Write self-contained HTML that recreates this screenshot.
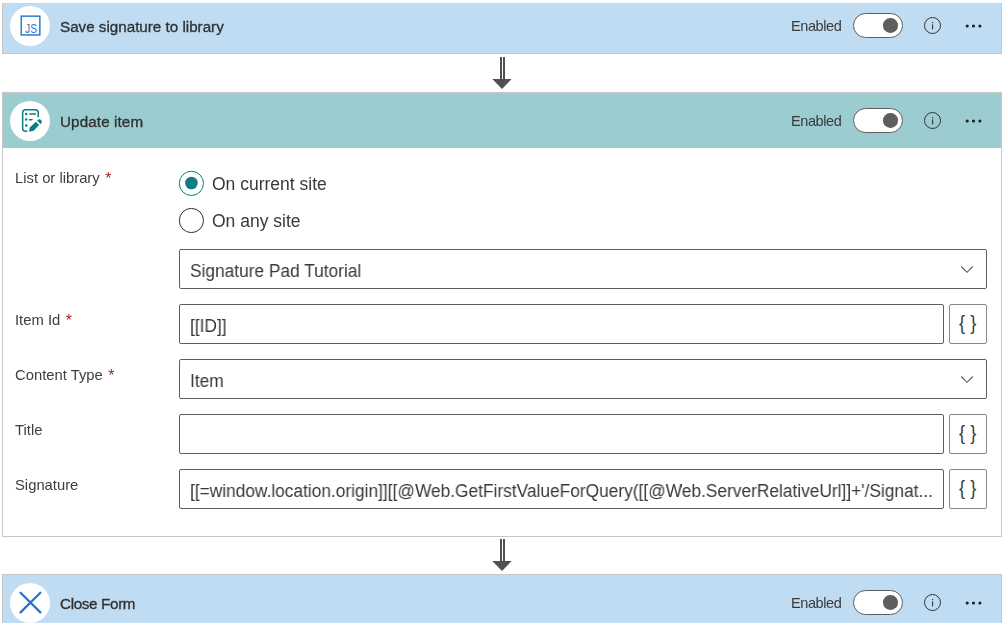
<!DOCTYPE html>
<html><head><meta charset="utf-8">
<style>
*{box-sizing:border-box;margin:0;padding:0}
html,body{width:1004px;height:625px;overflow:hidden;background:#fff;font-family:"Liberation Sans",sans-serif;color:#323130}
.abs{position:absolute}
.hdr{position:absolute;left:2px;width:1000px;height:57px;border:1px solid #c6c6c6}
.circ{position:absolute;left:7px;top:8px;width:40px;height:40px;border-radius:50%;background:#fff}
.ttl{position:absolute;left:57px;top:20.2px;line-height:normal;font-size:15.2px;-webkit-text-stroke:0.32px #323130;will-change:transform;white-space:nowrap;color:#323130}
.en{position:absolute;will-change:transform;left:787.9px;top:19.9px;font-size:14.5px;letter-spacing:-0.4px;white-space:nowrap;color:#3b3a39}
.tog{position:absolute;left:850px;top:15px;width:50px;height:25px;border:1px solid #605e5c;border-radius:13px;background:#fff}
.knob{position:absolute;left:29.3px;top:4.2px;width:14.6px;height:14.6px;border-radius:50%;background:#5f5e5d}
.info{position:absolute;left:920px;top:18px}
.dots{position:absolute;left:960.7px;top:24px}
.lbl{position:absolute;left:15px;will-change:transform;font-size:14.8px;white-space:nowrap;color:#3f3e3d}
.req{color:#a4262c;margin-left:1.4px;font-size:15.8px;line-height:1px;position:relative;top:1px}
.inp{position:absolute;left:179px;height:40px;border:1px solid #605e5c;border-radius:2px;background:#fff;font-size:18px;color:#3a3938;white-space:nowrap;overflow:hidden}
.inp span{position:absolute;will-change:transform;left:10px;top:11.3px;transform:scaleX(0.962);transform-origin:0 0}
.btn{position:absolute;left:949px;width:38px;height:40px;border:1px solid #8a8886;border-radius:2px;background:#fff}
.brace{position:absolute;left:9px;top:5.5px;font-size:20.8px;color:#3d3c3b;transform:scaleX(0.88);transform-origin:0 0;white-space:nowrap}
.arrow{position:absolute;left:491px}
.radio{position:absolute;left:178px}
.rtxt{position:absolute;will-change:transform;left:211.6px;font-size:17.5px;white-space:nowrap;color:#3a3938}
</style></head><body>

<div class="hdr" style="top:-3px;background:#bfdcf3;">
  <div class="circ"></div>
  <svg class="abs" style="left:16px;top:16px" width="22" height="22" viewBox="0 0 22 22">
    <rect x="2.25" y="2.15" width="18.6" height="18.8" fill="none" stroke="#2b7cd3" stroke-width="1.5"/>
    <text x="6" y="19" font-family="Liberation Sans" font-size="12" textLength="12" lengthAdjust="spacingAndGlyphs" fill="#2b7cd3">JS</text>
  </svg>
  <div class="ttl" style="letter-spacing:0px">Save signature to library</div>
  <div class="en">Enabled</div>
  <div class="tog"><div class="knob"></div></div>
  <svg class="info" width="19" height="19" viewBox="0 0 19 19"><circle cx="9.5" cy="9.5" r="8" fill="none" stroke="#323130" stroke-width="1"/><rect x="9.05" y="6" width="1.1" height="1.2" fill="#323130"/><rect x="9.05" y="8.4" width="1.1" height="4.9" fill="#323130"/></svg>
  <svg class="dots" width="22" height="8" viewBox="0 0 22 8"><circle cx="3.2" cy="4" r="1.55" fill="#201f1e"/><circle cx="9.5" cy="4" r="1.55" fill="#201f1e"/><circle cx="15.9" cy="4" r="1.55" fill="#201f1e"/></svg>
</div><div class="abs" style="left:0;top:0;width:1004px;height:3px;background:#fff"></div><div class="abs" style="left:3px;top:3px;width:998px;height:1px;background:#bad9f2"></div><svg class="arrow" style="top:56px" width="22" height="34" viewBox="0 0 22 34">
  <rect x="9" y="1" width="2" height="22" fill="#505050"/>
  <rect x="12" y="1" width="2" height="22" fill="#505050"/>
  <polygon points="1.3,23 20.6,23 11,33" fill="#505050"/>
</svg><div class="abs" style="left:2px;top:92px;width:1000px;height:445px;border:1px solid #c6c6c6;background:#fff"></div>
<div class="hdr" style="top:92px;background:#9bcdd0;border-bottom:none;height:56px">
  <div class="circ"></div>
  <svg class="abs" style="left:13px;top:11px" width="32" height="32" viewBox="16 104 32 32">
    <path d="M27.3 131.15 H25.65 a3 3 0 0 1 -3 -3 V112.65 a3 3 0 0 1 3 -3 H35.25 a3 3 0 0 1 3 3 V117.2" fill="none" stroke="#0a7e84" stroke-width="1.5"/>
    <circle cx="26.2" cy="114" r="1.25" fill="#0a7e84"/>
    <circle cx="26.2" cy="119.6" r="1.25" fill="#0a7e84"/>
    <circle cx="26.2" cy="125.5" r="1.25" fill="#0a7e84"/>
    <rect x="29.3" y="113.25" width="6.7" height="1.5" fill="#0a7e84"/>
    <polygon points="29,118.9 33.2,118.9 31.6,120.5 29,120.5" fill="#0a7e84"/>
    <polygon points="29,131.8 29.8,127.5 35.9,121.7 39.1,125.1 33.7,130.7" fill="#0a7e84"/>
    <path d="M37.1 120.6 L40.5 124.0 L41.1 123.4 A2.4 2.4 0 0 0 37.7 120.0 Z" fill="#0a7e84"/>
  </svg>
  <div class="ttl" style="letter-spacing:0.12px">Update item</div>
  <div class="en">Enabled</div>
  <div class="tog"><div class="knob"></div></div>
  <svg class="info" width="19" height="19" viewBox="0 0 19 19"><circle cx="9.5" cy="9.5" r="8" fill="none" stroke="#323130" stroke-width="1"/><rect x="9.05" y="6" width="1.1" height="1.2" fill="#323130"/><rect x="9.05" y="8.4" width="1.1" height="4.9" fill="#323130"/></svg>
  <svg class="dots" width="22" height="8" viewBox="0 0 22 8"><circle cx="3.2" cy="4" r="1.55" fill="#201f1e"/><circle cx="9.5" cy="4" r="1.55" fill="#201f1e"/><circle cx="15.9" cy="4" r="1.55" fill="#201f1e"/></svg>
</div><div class="lbl" style="top:169.61px">List or library <span class="req">*</span></div><svg class="radio" style="top:170px" width="28" height="28" viewBox="0 0 28 28"><circle cx="13.4" cy="13.4" r="12.1" fill="#fff" stroke="#0a7e84" stroke-width="1"/><circle cx="13.4" cy="13" r="6.3" fill="#0a7e84"/></svg><div class="rtxt" style="top:174.46px">On current site</div><svg class="radio" style="top:207px" width="28" height="28" viewBox="0 0 28 28"><circle cx="13.4" cy="13.5" r="12.1" fill="#fff" stroke="#323130" stroke-width="1"/></svg><div class="rtxt" style="top:211.46px">On any site</div><div class="inp" style="top:249px;width:808px"><span>Signature Pad Tutorial</span><svg class="abs" style="left:780px;top:15px" width="14" height="9" viewBox="0 0 14 9"><path d="M1.2 1.5 L7 7.3 L12.8 1.5" fill="none" stroke="#605e5c" stroke-width="1.1"/></svg></div><div class="lbl" style="top:311.61px">Item Id <span class="req">*</span></div><div class="inp" style="top:304px;width:765px"><span>[[ID]]</span></div><div class="btn" style="top:304px"><span class="brace">{ }</span></div><div class="lbl" style="top:366.61px">Content Type <span class="req">*</span></div><div class="inp" style="top:359px;width:808px"><span>Item</span><svg class="abs" style="left:780px;top:15px" width="14" height="9" viewBox="0 0 14 9"><path d="M1.2 1.5 L7 7.3 L12.8 1.5" fill="none" stroke="#605e5c" stroke-width="1.1"/></svg></div><div class="lbl" style="top:421.61px">Title</div><div class="inp" style="top:414px;width:765px"><span></span></div><div class="btn" style="top:414px"><span class="brace">{ }</span></div><div class="lbl" style="top:476.61px">Signature</div><div class="inp" style="top:469px;width:765px"><span>[[=window.location.origin]][[@Web.GetFirstValueForQuery([[@Web.ServerRelativeUrl]]+'/Signat...</span></div><div class="btn" style="top:469px"><span class="brace">{ }</span></div><svg class="arrow" style="top:538px" width="22" height="34" viewBox="0 0 22 34">
  <rect x="9" y="1" width="2" height="22" fill="#505050"/>
  <rect x="12" y="1" width="2" height="22" fill="#505050"/>
  <polygon points="1.3,23 20.6,23 11,33" fill="#505050"/>
</svg>
<div class="hdr" style="top:574px;background:#bfdcf3;border-bottom:none">
  <div class="circ"></div>
  <svg class="abs" style="left:5px;top:3px" width="48" height="47" viewBox="8 578 48 47"><path d="M20.5 592.7 L40.4 612.4 M40.4 592.7 L20.5 612.4" stroke="#1e74d6" stroke-width="2.2" stroke-linecap="round"/></svg>
  <div class="ttl" style="letter-spacing:-0.33px">Close Form</div>
  <div class="en">Enabled</div>
  <div class="tog"><div class="knob"></div></div>
  <svg class="info" width="19" height="19" viewBox="0 0 19 19"><circle cx="9.5" cy="9.5" r="8" fill="none" stroke="#323130" stroke-width="1"/><rect x="9.05" y="6" width="1.1" height="1.2" fill="#323130"/><rect x="9.05" y="8.4" width="1.1" height="4.9" fill="#323130"/></svg>
  <svg class="dots" width="22" height="8" viewBox="0 0 22 8"><circle cx="3.2" cy="4" r="1.55" fill="#201f1e"/><circle cx="9.5" cy="4" r="1.55" fill="#201f1e"/><circle cx="15.9" cy="4" r="1.55" fill="#201f1e"/></svg>
</div><div class="abs" style="left:0;top:623px;width:1004px;height:2px;background:#fff"></div>
</body></html>
